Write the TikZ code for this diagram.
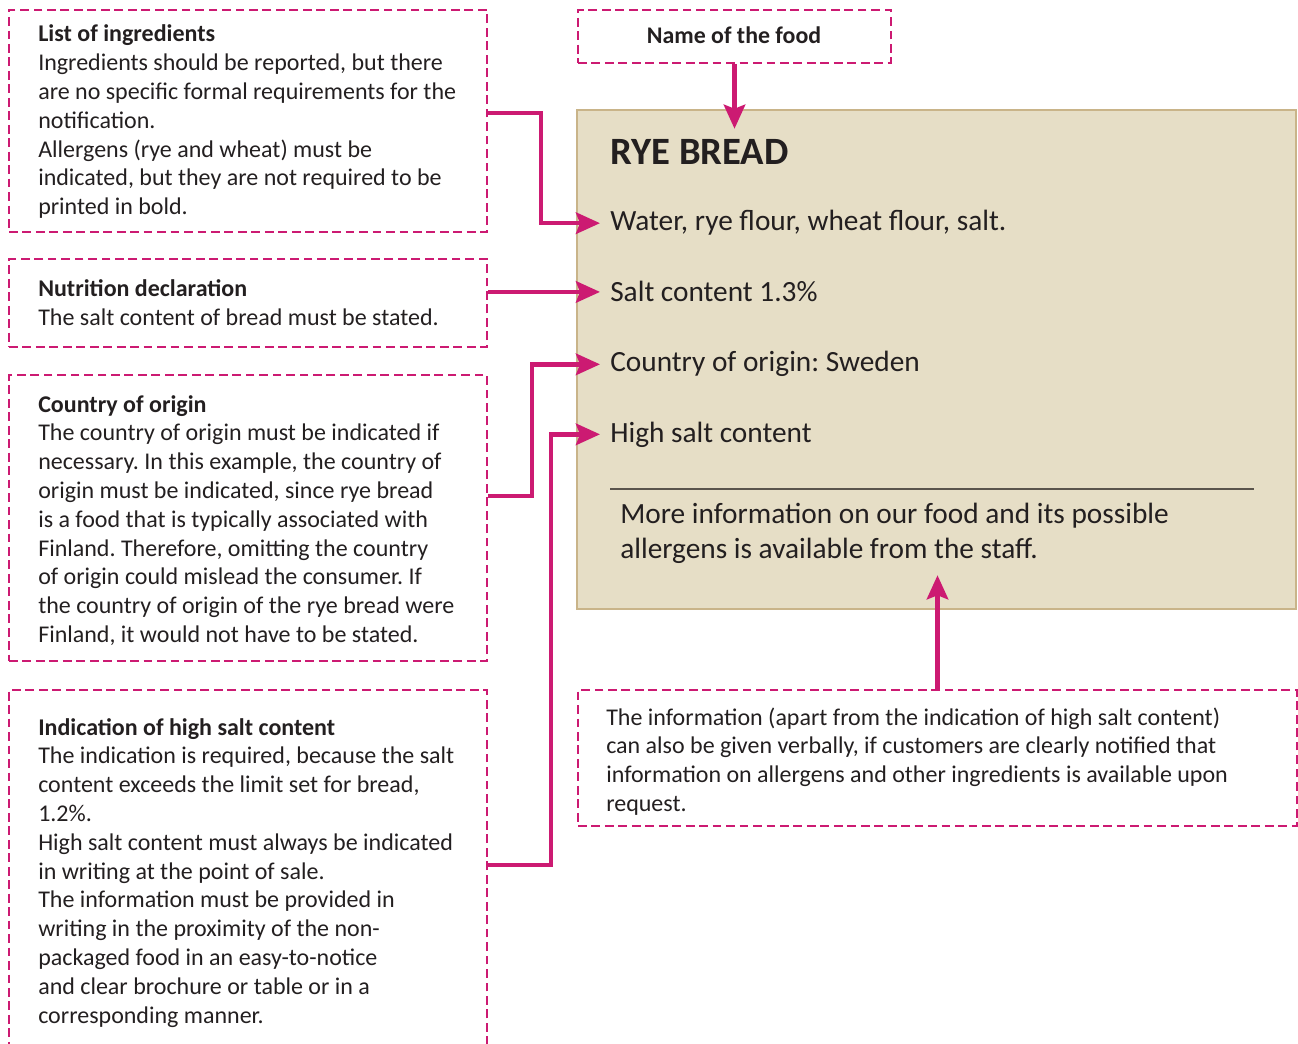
\documentclass[tikz,border=0pt]{standalone}
\usepackage{fontspec}
\setmainfont{Carlito}
\usetikzlibrary{arrows.meta,fit,calc}
\definecolor{mag}{HTML}{CC1A72}
\definecolor{beige}{HTML}{E6DEC6}
\definecolor{tanb}{HTML}{C9B489}
\definecolor{ink}{HTML}{231F20}
\definecolor{rule}{HTML}{5A544C}
\newcommand\mylines[1]{\begin{tabular}[t]{@{}l@{}}#1\end{tabular}}
\begin{document}
\frenchspacing
\begin{tikzpicture}[x=0.75pt,y=-0.75pt,
  dbox/.style={draw=mag,line width=2pt,dash pattern=on 6.6pt off 3.5pt,inner sep=0pt},
  conn/.style={draw=mag,line width=3.4pt,-{Stealth[length=18pt,width=16pt,inset=3pt]}},
  small/.style={font=\fontsize{18}{21.6}\selectfont\frenchspacing,text=ink,inner sep=0pt,anchor=base west},
  big/.style={font=\fontsize{22}{26.25}\selectfont\frenchspacing,text=ink,inner sep=0pt,anchor=base west}]
\useasboundingbox (0,0) rectangle (1298,1044);
% boxes
\node[dbox,fit={(9,10) (487,232)}] (ing) {};
\node[dbox,fit={(9,259) (487,347)}] (nut) {};
\node[dbox,fit={(9,375) (487,661)}] (cty) {};
\node[dbox,fit={(9,690) (487,1052)}] (hsc) {};
\node[dbox,fit={(578,10) (891,63)}] (name) {};
\node[draw=tanb,fill=beige,line width=1.9pt,inner sep=0pt,fit={(577,110) (1296,609)}] (lab) {};
\node[dbox,fit={(578,690) (1297,826)}] (info) {};
% name text
\node[inner sep=0pt,anchor=base,font=\fontsize{17.9}{20}\selectfont\bfseries,text=ink] (nameT) at (734,44) {Name of the food};
% texts left
\node[small] (tING) at (38,42) {\mylines{\textbf{List of ingredients}\\Ingredients should be reported, but there\\are no specific formal requirements for the\\notification.\\Allergens (rye and wheat) must be\\indicated, but they are not required to be\\printed in bold.}};
\node[small] (tNUT) at (38,297) {\mylines{\textbf{Nutrition declaration}\\The salt content of bread must be stated.}};
\node[small] (tCTY) at (38,412) {\mylines{\textbf{Country of origin}\\The country of origin must be indicated if\\necessary. In this example, the country of\\origin must be indicated, since rye bread\\is a food that is typically associated with\\Finland. Therefore, omitting the country\\of origin could mislead the consumer. If\\the country of origin of the rye bread were\\Finland, it would not have to be stated.}};
\node[small] (tHSC) at (38,735) {\mylines{\textbf{Indication of high salt content}\\The indication is required, because the salt\\content exceeds the limit set for bread,\\1.2\%.\\High salt content must always be indicated\\in writing at the point of sale.\\The information must be provided in\\writing in the proximity of the non-\\packaged food in an easy-to-notice\\and clear brochure or table or in a\\corresponding manner.}};
% label texts
\node[inner sep=0pt,anchor=base west,text=ink,font=\fontsize{29}{34}\selectfont\bfseries] (rye) at (610,165) {RYE BREAD};
\node[big] (water) at (610,231) {Water, rye flour, wheat flour, salt.};
\node[big] (salt) at (610,302) {Salt content 1.3\%};
\node[big] (origin) at (610,372) {Country of origin: Sweden};
\node[big] (high) at (610,442) {High salt content};
\draw[rule,line width=1pt] (610,489) -- (1254,489);
\node[big] (more) at (620,523) {\mylines{More information on our food and its possible\\allergens is available from the staff.}};
\node[small] (tINFO) at (606,725) {\mylines{The information (apart from the indication of high salt content)\\can also be given verbally, if customers are clearly notified that\\information on allergens and other ingredients is available upon\\request.}};
% connectors
\draw[conn] ([yshift=6pt]ing.east) -| ([xshift=-51.75pt]water.west) -- ([xshift=-7.5pt]water.west);
\draw[conn] (nut.east |- salt.west) -- ([xshift=-7.5pt]salt.west);
\draw[conn] ([yshift=16.5pt]cty.east) -| ([xshift=-58.5pt]origin.west) -- ([xshift=-7.5pt]origin.west);
\draw[conn] ([yshift=4.5pt]hsc.east) -| ([xshift=-44.25pt]high.west) -- ([xshift=-7.5pt]high.west);
\draw[conn] (name.south) -- ($(name.south |- lab.north)+(0,20)$);
\draw[conn] (info.north) -- ($(info.north |- lab.south)+(0,-35)$);
\end{tikzpicture}
\end{document}
